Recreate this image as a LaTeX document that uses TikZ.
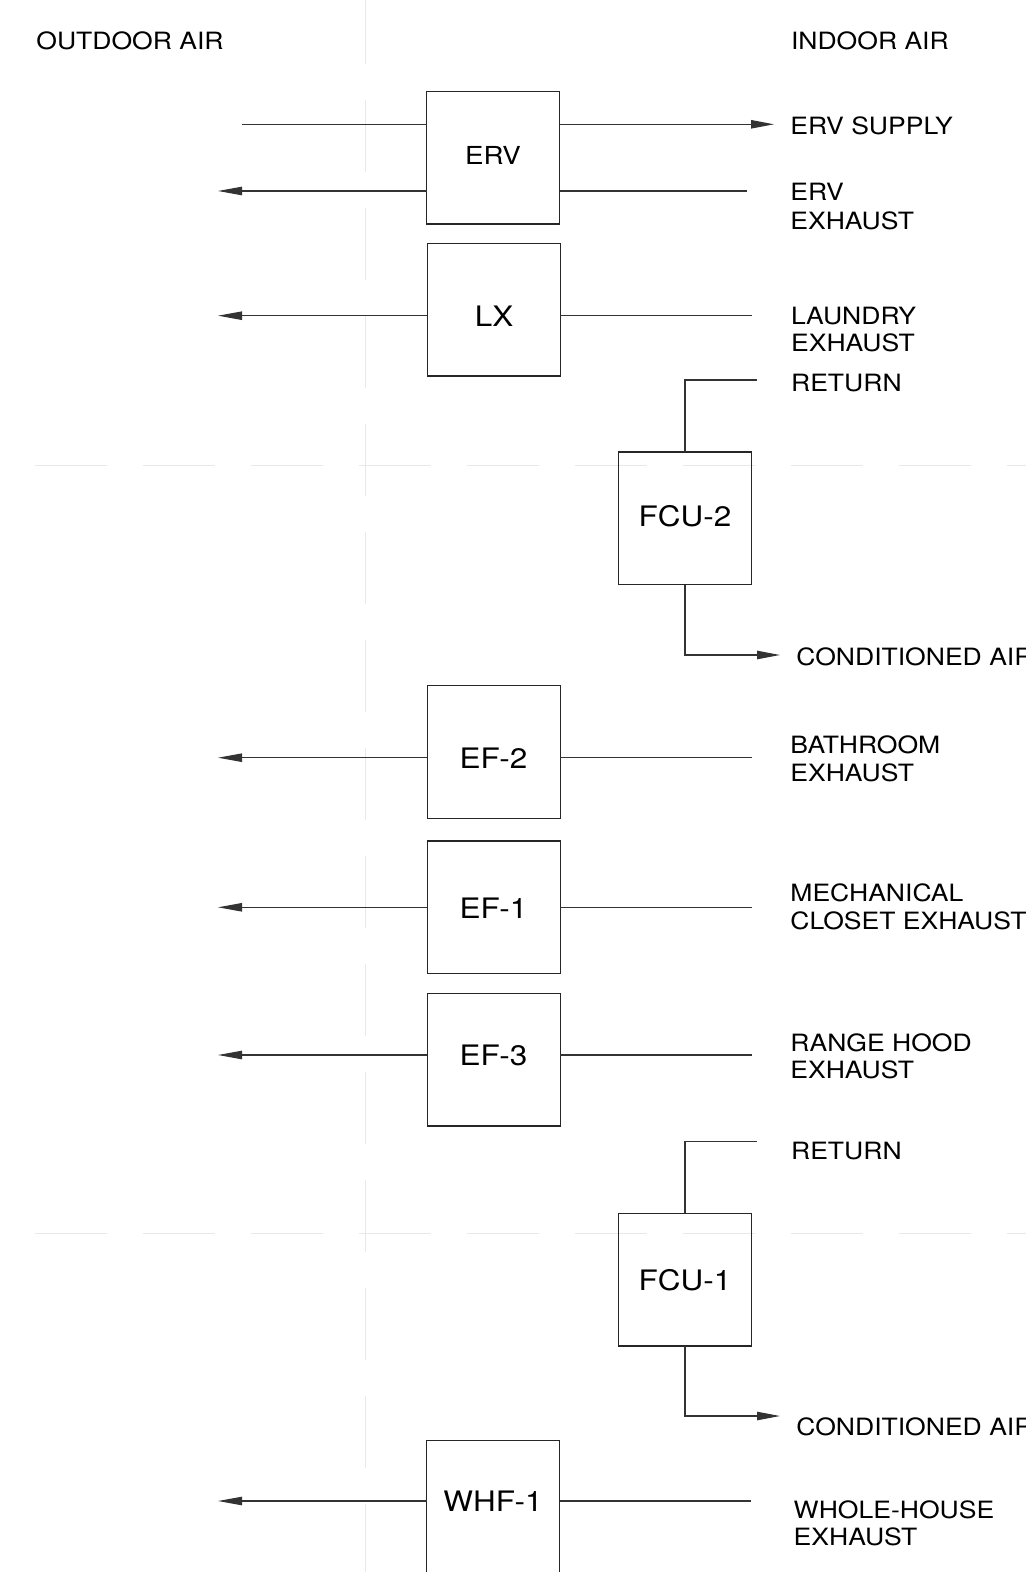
\documentclass[tikz,border=0pt]{standalone}
\usepackage{fontspec}
\setmainfont{TeX Gyre Heros}[FakeStretch=1.115]
\usetikzlibrary{arrows.meta}
\begin{document}
\begin{tikzpicture}[x=0.5pt,y=-0.5pt,
  guide/.style={draw=black!9, line width=0.5pt, dash pattern=on 36pt off 18pt},
  unit/.style={draw=black!85, line width=0.6pt, minimum width=66.5pt, minimum height=66.25pt, inner sep=0pt, outer sep=0pt},
  ulabel/.style={font=\fontsize{14.1pt}{16pt}\selectfont, inner sep=0pt, text height=10.1pt, text depth=0pt},
  ulabelsm/.style={font=\fontsize{12.4pt}{14pt}\selectfont, inner sep=0pt, text height=8.9pt, text depth=0pt},
  duct/.style={draw=black!80, line width=0.55pt},
  arr/.style={duct, -{Triangle[length=12pt,width=4.2pt]}},
  arrr/.style={duct, -{Triangle[length=11.5pt,width=4.2pt]}},
  side/.style={font=\fontsize{11.9pt}{14pt}\selectfont, anchor=base west, inner sep=0pt}
]
\useasboundingbox (0,0) rectangle (1026,1572);
\fill[white] (0,0) rectangle (1026,1572);

% guide lines
\draw[guide, dash phase=4pt] (365.7,0) -- (365.7,1572);
\draw[guide] (35,465) -- (1026,465);
\draw[guide] (35,1233.3) -- (1026,1233.3);

% headers
\node[side] (hout) at (36,49.3) {OUTDOOR AIR};
\node[side] (hin) at (790.6,49.3) {INDOOR AIR};

% ERV
\node[unit] (erv) at (493,157.8) {};
\node[ulabelsm] (ervt) at (493,155.5) {ERV};
\coordinate (ervin) at (242,124.3);
\coordinate (ervsup) at (774,124.3);
\coordinate (ervexo) at (218,191);
\coordinate (ervexi) at (747,191);
\draw[duct] (ervin) -- (ervin -| erv.west);
\draw[arrr] (ervsup -| erv.east) -- (ervsup);
\draw[arr] (ervexi -| erv.west) -- (ervexo);
\draw[duct] (ervexi) -- (ervexi -| erv.east);
\node[side] (ervs) at (790,134.3) {ERV SUPPLY};
\node[side] (erve1) at (790,201) {ERV};
\node[side] (erve2) at (790,229.3) {EXHAUST};

% LX
\node[unit] (lx) at (493.8,309.8) {};
\node[ulabel] (lxt) at (494,316) {LX};
\coordinate (lxo) at (218,315.7);
\coordinate (lxi) at (751.7,315.7);
\draw[arr] (lxo -| lx.west) -- (lxo);
\draw[duct] (lx.east |- lxi) -- (lxi);
\node[side] (lx1) at (790.7,325) {LAUNDRY};
\node[side] (lx2) at (790.7,351.7) {EXHAUST};

% FCU-2
\node[unit] (fcu2) at (685,518.3) {};
\node[ulabel] (fcu2t) at (685,516.7) {FCU-2};
\coordinate (ret2) at (756.7,380);
\coordinate (ca2) at (780,655);
\draw[duct] (fcu2.north) -- (fcu2.north |- ret2) -- (ret2);
\draw[arrr] (fcu2.south) -- (fcu2.south |- ca2) -- (ca2);
\node[side] (ret2t) at (790.7,391.7) {RETURN};
\node[side] (ca2t) at (796,665) {CONDITIONED AIR};

% EF-2
\node[unit] (ef2) at (493.8,752) {};
\node[ulabel] (ef2t) at (493.5,758.7) {EF-2};
\coordinate (ef2o) at (218,757.7);
\coordinate (ef2i) at (751.7,757.7);
\draw[arr] (ef2o -| ef2.west) -- (ef2o);
\draw[duct] (ef2.east |- ef2i) -- (ef2i);
\node[side] (ef2a) at (790,753.3) {BATHROOM};
\node[side] (ef2b) at (790,781) {EXHAUST};

% EF-1
\node[unit] (ef1) at (493.8,907.3) {};
\node[ulabel] (ef1t) at (493.5,908.7) {EF-1};
\coordinate (ef1o) at (218,907.3);
\coordinate (ef1i) at (751.7,907.3);
\draw[arr] (ef1o -| ef1.west) -- (ef1o);
\draw[duct] (ef1.east |- ef1i) -- (ef1i);
\node[side] (ef1a) at (790,901.7) {MECHANICAL};
\node[side] (ef1b) at (790,929) {CLOSET EXHAUST};

% EF-3
\node[unit] (ef3) at (493.8,1059.8) {};
\node[ulabel] (ef3t) at (493.5,1055) {EF-3};
\coordinate (ef3o) at (218,1055);
\coordinate (ef3i) at (751.7,1055);
\draw[arr] (ef3o -| ef3.west) -- (ef3o);
\draw[duct] (ef3.east |- ef3i) -- (ef3i);
\node[side] (ef3a) at (790,1051.7) {RANGE HOOD};
\node[side] (ef3b) at (790,1078.5) {EXHAUST};

% FCU-1
\node[unit] (fcu1) at (685,1279.7) {};
\node[ulabel] (fcu1t) at (685,1280) {FCU-1};
\coordinate (ret1) at (756.7,1141.3);
\coordinate (ca1) at (780,1416);
\draw[duct] (fcu1.north) -- (fcu1.north |- ret1) -- (ret1);
\draw[arrr] (fcu1.south) -- (fcu1.south |- ca1) -- (ca1);
\node[side] (ret1t) at (790.7,1159.3) {RETURN};
\node[side] (ca1t) at (796,1435) {CONDITIONED AIR};

% WHF-1
\node[unit] (whf) at (493,1507) {};
\node[ulabel] (whft) at (493,1501.7) {WHF-1};
\coordinate (whfo) at (218,1501);
\coordinate (whfi) at (750.8,1501);
\draw[arr] (whfo -| whf.west) -- (whfo);
\draw[duct] (whf.east |- whfi) -- (whfi);
\node[side] (whfa) at (793.3,1518) {WHOLE-HOUSE};
\node[side] (whfb) at (793.3,1545) {EXHAUST};
\end{tikzpicture}
\end{document}
